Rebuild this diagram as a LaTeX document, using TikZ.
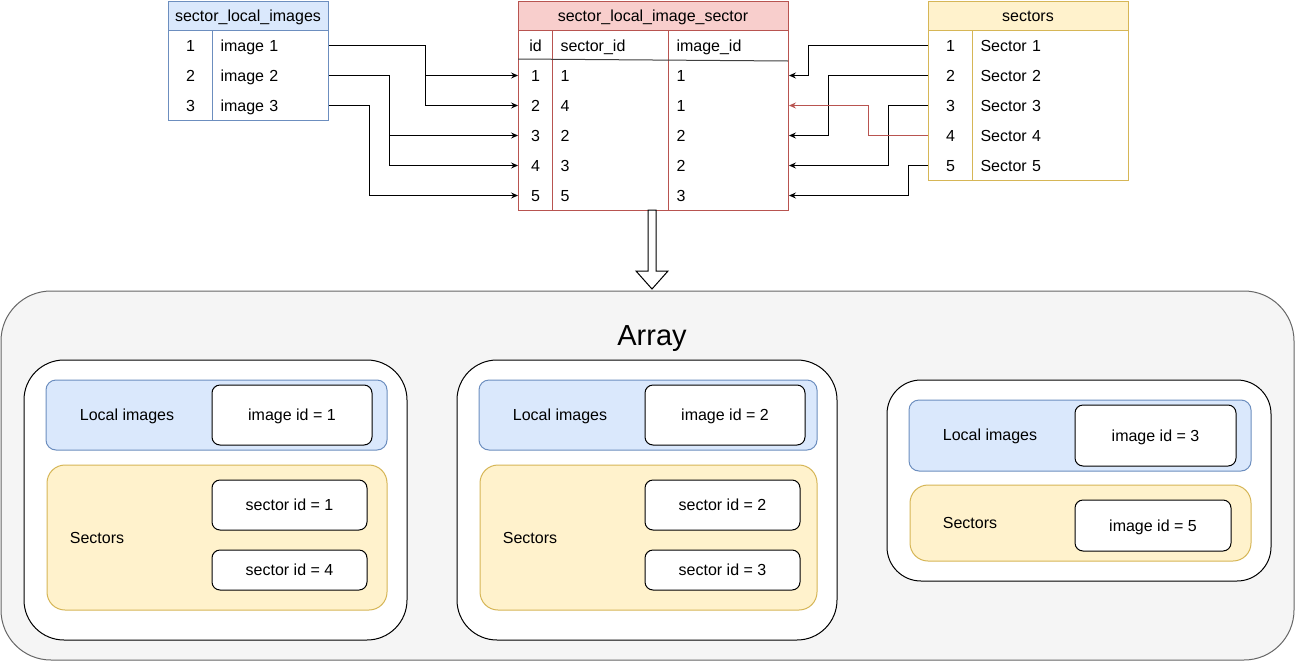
\documentclass[tikz,border=0pt]{standalone}
\usepackage{fontspec}
\setmainfont{Liberation Sans}
\usetikzlibrary{arrows.meta,calc}

\definecolor{bluefill}{HTML}{DAE8FC}
\definecolor{bluedraw}{HTML}{6C8EBF}
\definecolor{redfill}{HTML}{F8CECC}
\definecolor{reddraw}{HTML}{B85450}
\definecolor{yellowfill}{HTML}{FFF2CC}
\definecolor{yellowdraw}{HTML}{D6B656}
\definecolor{grayfill}{HTML}{F5F5F5}
\definecolor{graydraw}{HTML}{666666}

\tikzset{
  txt/.style={font=\fontsize{16}{19}\selectfont, text height=11.5pt, text depth=0pt, inner sep=0pt},
  numcell/.style={txt, anchor=north west, minimum width=#1, minimum height=30pt},
  valcell/.style={txt, anchor=north west, minimum height=30pt, text width=#1, align=left, inner xsep=8pt},
  tabframe/.style={draw=#1, fill=white, anchor=north west, inner sep=0pt, outer sep=0pt},
  link/.style={-{Stealth[length=7pt,width=6pt,inset=2.5pt]}},
  card/.style={draw, fill=white, rounded corners=#1, anchor=north west, inner sep=0pt, outer sep=0pt},
  imgpanel/.style={draw=bluedraw, fill=bluefill, rounded corners=10pt, anchor=north west, inner sep=0pt, outer sep=0pt},
  secpanel/.style={draw=yellowdraw, fill=yellowfill, rounded corners=18pt, anchor=north west, inner sep=0pt, outer sep=0pt},
  idbox/.style={txt, draw, fill=white, rounded corners=8pt, anchor=north west, outer sep=0pt},
}

\begin{document}
\begin{tikzpicture}[x=1pt, y=-1pt, line width=1pt]
  \useasboundingbox (0,0) rectangle (1296,662);

  % sector_local_images
  \node[tabframe=bluedraw, minimum width=160pt, minimum height=119pt] (ltab) at (168,1) {};
  \draw[bluedraw, fill=bluefill] (168,1) rectangle (328,30);
  \draw[bluedraw] (212,30) -- (212,120);
  \node[txt] (lhead) at (248,15.5) {sector\_local\_images};
  \path
    (168,30) node[numcell=44pt] (lid1) {1}
    (212,30) node[valcell=100pt] (limg1) {image 1}
    (168,60) node[numcell=44pt] (lid2) {2}
    (212,60) node[valcell=100pt] (limg2) {image 2}
    (168,90) node[numcell=44pt] (lid3) {3}
    (212,90) node[valcell=100pt] (limg3) {image 3};

  % sector_local_image_sector
  \node[tabframe=reddraw, minimum width=270pt, minimum height=209pt] (mtab) at (518,1) {};
  \draw[reddraw, fill=redfill] (518,1) rectangle (788,30);
  \draw[reddraw] (552,30) -- (552,210) (668,30) -- (668,210);
  \draw[black!75] (518,59) -- (788,61);
  \node[txt] (mhead) at (653,15.5) {sector\_local\_image\_sector};
  \path
    (518,30) node[numcell=34pt] (mid0) {id}
    (552,30) node[valcell=100pt] (msec0) {sector\_id}
    (668,30) node[valcell=104pt] (mimg0) {image\_id}
    (518,60) node[numcell=34pt] (mid1) {1}
    (552,60) node[valcell=100pt] (msec1) {1}
    (668,60) node[valcell=104pt] (mimg1) {1}
    (518,90) node[numcell=34pt] (mid2) {2}
    (552,90) node[valcell=100pt] (msec2) {4}
    (668,90) node[valcell=104pt] (mimg2) {1}
    (518,120) node[numcell=34pt] (mid3) {3}
    (552,120) node[valcell=100pt] (msec3) {2}
    (668,120) node[valcell=104pt] (mimg3) {2}
    (518,150) node[numcell=34pt] (mid4) {4}
    (552,150) node[valcell=100pt] (msec4) {3}
    (668,150) node[valcell=104pt] (mimg4) {2}
    (518,180) node[numcell=34pt] (mid5) {5}
    (552,180) node[valcell=100pt] (msec5) {5}
    (668,180) node[valcell=104pt] (mimg5) {3};

  % sectors
  \node[tabframe=yellowdraw, minimum width=200pt, minimum height=179pt] (stab) at (928,1) {};
  \draw[yellowdraw, fill=yellowfill] (928,1) rectangle (1128,30);
  \draw[yellowdraw] (972,30) -- (972,180);
  \node[txt] (shead) at (1028,15.5) {sectors};
  \path
    (928,30) node[numcell=44pt] (sid1) {1}
    (972,30) node[valcell=140pt] (sname1) {Sector 1}
    (928,60) node[numcell=44pt] (sid2) {2}
    (972,60) node[valcell=140pt] (sname2) {Sector 2}
    (928,90) node[numcell=44pt] (sid3) {3}
    (972,90) node[valcell=140pt] (sname3) {Sector 3}
    (928,120) node[numcell=44pt] (sid4) {4}
    (972,120) node[valcell=140pt] (sname4) {Sector 4}
    (928,150) node[numcell=44pt] (sid5) {5}
    (972,150) node[valcell=140pt] (sname5) {Sector 5};

  % image links
  \begin{scope}[link]
    \draw (limg1.east) -- ++(96,0) |- (mid1.west);
    \draw (limg1.east) -- ++(96,0) |- (mid2.west);
    \draw (limg2.east) -- ++(60,0) |- (mid3.west);
    \draw (limg2.east) -- ++(60,0) |- (mid4.west);
    \draw (limg3.east) -- ++(40,0) |- (mid5.west);
  \end{scope}

  % sector links
  \begin{scope}[link]
    \draw (sid1.west) -- ++(-120,0) |- (mimg1.east);
    \draw (sid2.west) -- ++(-100,0) |- (mimg3.east);
    \draw (sid3.west) -- ++(-40,0) |- (mimg4.east);
    \draw[reddraw] (sid4.west) -- ++(-60,0) |- (mimg2.east);
    \draw (sid5.west) -- ++(-20,0) |- (mimg5.east);
  \end{scope}

  % array
  \node[draw=graydraw, fill=grayfill, rounded corners=50pt, minimum width=1293pt, minimum height=369pt,
        anchor=north west, inner sep=0pt, outer sep=0pt] (arr) at (1,291) {};
  \node[txt, font=\fontsize{29}{34}\selectfont, text height=20.8pt] (arrlbl) at (652,335) {Array};

  \draw[fill=white] ($(mtab.south)+(-5,0)$) -- ++(0,61) -- ++(-12,0) -- ($(mtab.south)+(-1,79)$)
    -- ++(16,-18) -- ++(-12,0) -- ++(0,-61) -- cycle;

  % first entry
  \node[card=40pt, minimum width=383pt, minimum height=280pt] (card1) at (24,360) {};
  \node[imgpanel, minimum width=341pt, minimum height=70pt] (ipan1) at (46,380) {};
  \node[secpanel, minimum width=340pt, minimum height=145pt] (span1) at (47,465) {};
  \node[txt] (ilbl1) at (127,415) {Local images};
  \node[txt] (slbl1) at (97,538) {Sectors};
  \node[idbox, minimum width=160pt, minimum height=60pt] (img1) at (212,385) {image id = 1};
  \node[idbox, minimum width=155pt, minimum height=50pt] (sec1a) at (212,480) {sector id = 1};
  \node[idbox, minimum width=155pt, minimum height=40pt] (sec1b) at (212,550) {sector id = 4};

  % second entry
  \node[card=40pt, minimum width=380pt, minimum height=280pt] (card2) at (457,360) {};
  \node[imgpanel, minimum width=338pt, minimum height=70pt] (ipan2) at (479,380) {};
  \node[secpanel, minimum width=337pt, minimum height=145pt] (span2) at (480,465) {};
  \node[txt] (ilbl2) at (560,415) {Local images};
  \node[txt] (slbl2) at (530,538) {Sectors};
  \node[idbox, minimum width=160pt, minimum height=60pt] (img2) at (645,385) {image id = 2};
  \node[idbox, minimum width=155pt, minimum height=50pt] (sec2a) at (645,480) {sector id = 2};
  \node[idbox, minimum width=155pt, minimum height=40pt] (sec2b) at (645,550) {sector id = 3};

  % third entry
  \node[card=34pt, minimum width=384pt, minimum height=201pt] (card3) at (887,380) {};
  \node[imgpanel, minimum width=342pt, minimum height=71pt] (ipan3) at (909,400) {};
  \node[secpanel, minimum width=341pt, minimum height=76pt] (span3) at (910,485) {};
  \node[txt] (ilbl3) at (990,435) {Local images};
  \node[txt] (slbl3) at (970,523) {Sectors};
  \node[idbox, minimum width=161pt, minimum height=61pt] (img3) at (1075,405) {image id = 3};
  \node[idbox, minimum width=156pt, minimum height=51pt] (img5) at (1075,500) {image id = 5};
\end{tikzpicture}
\end{document}
